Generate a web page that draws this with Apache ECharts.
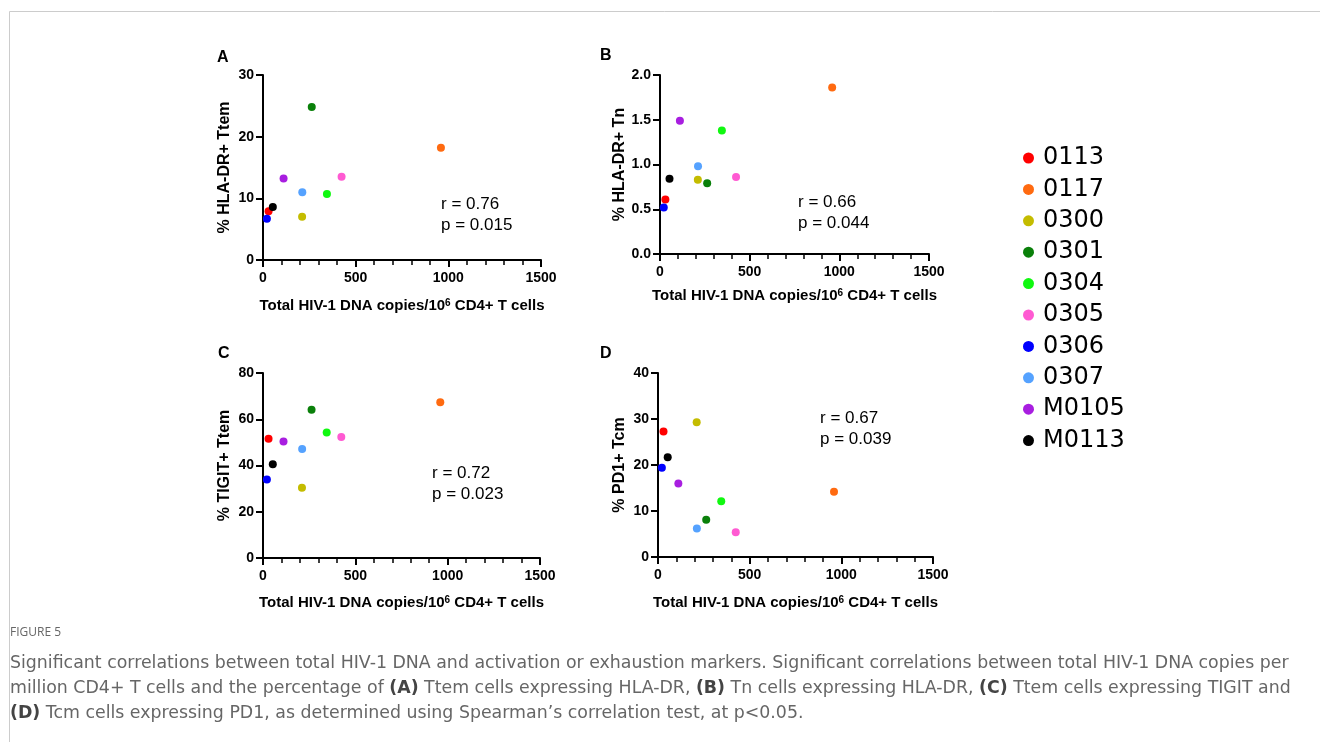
<!DOCTYPE html>
<html>
<head>
<meta charset="utf-8">
<script src="https://cdn.jsdelivr.net/npm/echarts@6/dist/echarts.min.js"></script>
<style>
  html, body { margin: 0; padding: 0; background: #fff; }
  #chart { width: 1320px; height: 742px; }
</style>
</head>
<body>
<div id="chart"></div>
<script>
// patients (one colour each, same order everywhere)
var patients = ['0113', '0117', '0300', '0301', '0304', '0305', '0306', '0307', 'M0105', 'M0113'];
var patientColors = ['#ff0000', '#ff6a10', '#c4bc00', '#0a800a', '#10f810', '#ff5ad2', '#0000ff', '#55a2ff', '#a81ee0', '#000000'];

// total HIV-1 DNA copies / 10^6 CD4+ T cells
var dnaCopies = [30, 960, 211, 263, 345, 424, 21, 212, 111, 53];

// y values per panel
var hladrTtem = [7.9, 18.2, 7.0, 24.8, 10.7, 13.5, 6.7, 11.0, 13.2, 8.6];
var hladrTn = [0.61, 1.86, 0.83, 0.79, 1.38, 0.86, 0.52, 0.98, 1.49, 0.84];
var tigitTtem = [51.6, 67.4, 30.4, 64.1, 54.3, 52.3, 33.9, 47.1, 50.4, 40.5];
var pd1Tcm = [27.3, 14.2, 29.3, 8.1, 12.1, 5.4, 19.4, 6.2, 16.0, 21.7];

var panelLetters = ['A', 'B', 'C', 'D'];
var yNames = ['% HLA-DR+ Ttem', '% HLA-DR+ Tn', '% TIGIT+ Ttem', '% PD1+ Tcm'];
var yMax = [30, 2, 80, 40];
var yStep = [10, 0.5, 20, 10];
var rTexts = ['r = 0.76', 'r = 0.66', 'r = 0.72', 'r = 0.67'];
var pTexts = ['p = 0.015', 'p = 0.044', 'p = 0.023', 'p = 0.039'];
var panelValues = [hladrTtem, hladrTn, tigitTtem, pd1Tcm];

var xName = 'Total HIV-1 DNA copies/10{sup|6} CD4+ T cells';

var grids = [
  { left: 263, top: 75, width: 278, height: 185 },
  { left: 660, top: 75, width: 269, height: 179 },
  { left: 263, top: 373, width: 277, height: 185 },
  { left: 658, top: 373, width: 275, height: 184 }
];
var xNameGaps = [38, 34, 37, 38];
var letterPos = [[217, 59], [600, 57], [218, 355], [600, 355]];
var statPos = [[441, 204], [798, 202], [432, 473], [820, 418]];

var axisFont = 'Liberation Sans, Arial, sans-serif';

var chart = echarts.init(document.getElementById('chart'), null, { renderer: 'canvas' });

var xAxes = [], yAxes = [], series = [], graphics = [];

grids.forEach(function (g, i) {
  xAxes.push({
    type: 'value', gridIndex: i, min: 0, max: 1500, interval: 500,
    name: xName, nameLocation: 'middle', nameGap: xNameGaps[i],
    nameTextStyle: {
      fontFamily: axisFont, fontWeight: 'bold', fontSize: 15, color: '#000',
      rich: { sup: { fontFamily: axisFont, fontWeight: 'bold', fontSize: 10, color: '#000', verticalAlign: 'top', padding: [0, 0, 6, 0] } }
    },
    axisLine: { show: true, onZero: false, lineStyle: { color: '#000', width: 2 } },
    axisTick: { show: true, length: 7, lineStyle: { color: '#000', width: 2 } },
    minorTick: { show: true, splitNumber: 5, length: 5, lineStyle: { color: '#000', width: 1.5 } },
    splitLine: { show: false },
    axisLabel: {
      fontFamily: axisFont, fontWeight: 'bold', fontSize: 14, color: '#000', margin: 11,
      formatter: function (v) { return String(v); }
    }
  });
  yAxes.push({
    type: 'value', gridIndex: i, min: 0, max: yMax[i], interval: yStep[i],
    name: yNames[i], nameLocation: 'middle', nameGap: 30, nameRotate: 90,
    nameTextStyle: { fontFamily: axisFont, fontWeight: 'bold', fontSize: 16, color: '#000' },
    axisLine: { show: true, onZero: false, lineStyle: { color: '#000', width: 2 } },
    axisTick: { show: true, length: 7, lineStyle: { color: '#000', width: 2 } },
    splitLine: { show: false },
    axisLabel: {
      fontFamily: axisFont, fontWeight: 'bold', fontSize: 14, color: '#000', margin: 9,
      formatter: function (v) { return i === 1 ? v.toFixed(1) : String(v); }
    }
  });

  patients.forEach(function (name, p) {
    series.push({
      type: 'scatter', name: name, xAxisIndex: i, yAxisIndex: i,
      symbol: 'circle', symbolSize: 8,
      itemStyle: { color: patientColors[p], opacity: 1 },
      data: [[dnaCopies[p], panelValues[i][p]]]
    });
  });

  graphics.push({
    type: 'text', left: letterPos[i][0], top: letterPos[i][1] - 9,
    style: { text: panelLetters[i], font: 'bold 16px ' + axisFont, fill: '#000' }
  });
  graphics.push({
    type: 'text', left: statPos[i][0], top: statPos[i][1] - 10,
    style: { text: rTexts[i] + '\n' + pTexts[i], font: '17px ' + axisFont, fill: '#000', lineHeight: 21 }
  });
});

// frame lines of the figure box
graphics.push({ type: 'line', shape: { x1: 9.5, y1: 11.5, x2: 1320, y2: 11.5 }, style: { stroke: '#cccccc', lineWidth: 1 } });
graphics.push({ type: 'line', shape: { x1: 9.5, y1: 11.5, x2: 9.5, y2: 742 }, style: { stroke: '#cccccc', lineWidth: 1 } });

// caption
var capFamily = 'DejaVu Sans, sans-serif';
var capLines = [
  'Significant correlations between total HIV-1 DNA and activation or exhaustion markers. Significant correlations between total HIV-1 DNA copies per',
  'million CD4+ T cells and the percentage of {b|(A)} Ttem cells expressing HLA-DR, {b|(B)} Tn cells expressing HLA-DR, {b|(C)} Ttem cells expressing TIGIT and',
  '{b|(D)} Tcm cells expressing PD1, as determined using Spearman\u2019s correlation test, at p<0.05.'
];
// fit first caption line to the figure width
var ctx = document.createElement('canvas').getContext('2d');
ctx.font = '16px ' + capFamily;
var capSize = Math.min(17.6, 16 * 1280 / ctx.measureText(capLines[0]).width);

graphics.push({
  type: 'text', left: 10, top: 627,
  style: { text: 'FIGURE 5', font: '12px Open Sans, sans-serif', fill: '#666' }
});
graphics.push({
  type: 'text', left: 10, top: 651,
  style: {
    text: capLines.join('\n'), font: capSize + 'px ' + capFamily, fill: '#666', lineHeight: 25,
    rich: { b: { fontFamily: capFamily, fontWeight: 'bold', fontSize: capSize, fill: '#444' } }
  }
});

chart.setOption({
  animation: false,
  backgroundColor: '#fff',
  grid: grids,
  xAxis: xAxes,
  yAxis: yAxes,
  legend: {
    data: patients, orient: 'vertical', left: 1018, top: 141,
    icon: 'circle', itemWidth: 11, itemHeight: 11, itemGap: 7.4,
    selectedMode: false,
    textStyle: { fontFamily: 'DejaVu Sans, Verdana, sans-serif', fontSize: 24, color: '#000', lineHeight: 24, padding: [0, 0, 0, 4] }
  },
  series: series,
  graphic: graphics
});
</script>
</body>
</html>
